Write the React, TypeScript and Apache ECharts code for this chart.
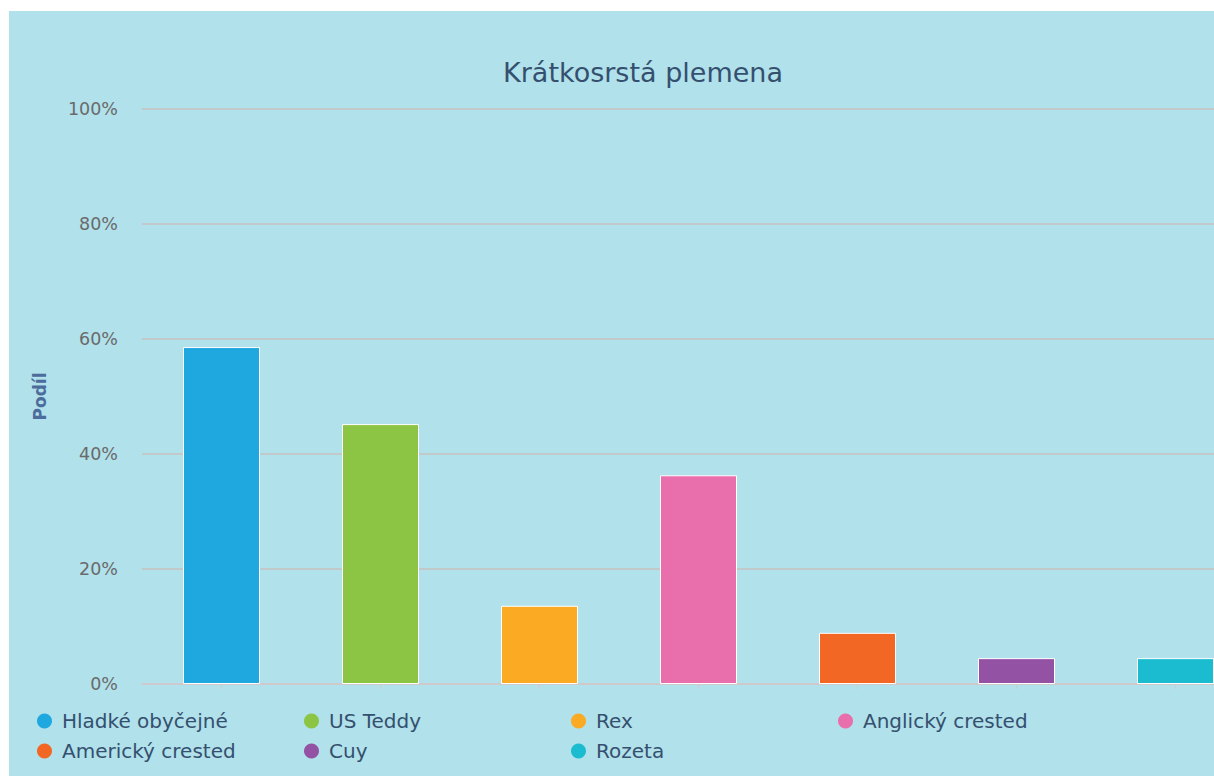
import React, { useEffect, useRef } from "react";
import * as echarts from "echarts";

const categories = ["Hladké obyčejné", "US Teddy", "Rex", "Anglický crested", "Americký crested", "Cuy", "Rozeta"];
const values = [58.6, 45.2, 13.6, 36.3, 8.9, 4.5, 4.5];
const colors = ["#1fa7e0", "#8bc543", "#fbaa24", "#e86fab", "#f26724", "#9452a4", "#1bbcd0"];
const yTicks = { min: 0, max: 100, interval: 20 };
const titleText = "Krátkosrstá plemena";
const yAxisName = "Podíl";

export default function App() {
  const ref = useRef<HTMLDivElement>(null);
  useEffect(() => {
    if (!ref.current) return;
    const chart = echarts.init(ref.current, undefined, { renderer: "svg" });
    const font = "'DejaVu Sans', Verdana, sans-serif";
    const series = categories.map((name, i) => ({
      name,
      type: "bar",
      stack: "all",
      barWidth: 77,
      data: categories.map((_, j) => (j === i ? values[i] : "-")),
      itemStyle: { color: colors[i], borderColor: "#ffffff", borderWidth: 1 },
    }));
    chart.setOption({
      animation: false,
      backgroundColor: "#b1e1ea",
      color: colors,
      title: {
        text: titleText,
        left: "center",
        top: 48,
        padding: 0,
        textStyle: { fontFamily: font, fontSize: 27, fontWeight: "normal", color: "#35506f" },
      },
      legend: {
        left: 28,
        top: 700,
        width: 1100,
        orient: "horizontal",
        icon: "circle",
        itemWidth: 25,
        itemHeight: 15,
        itemGap: 10,
        padding: 0,
        data: categories,
        itemStyle: { borderWidth: 0 },
        textStyle: { fontFamily: font, fontSize: 20, color: "#35506f", width: 232, lineHeight: 20 },
      },
      grid: { left: 133, right: 22, top: 98, bottom: 92 },
      xAxis: {
        type: "category",
        data: categories,
        axisLine: { lineStyle: { color: "#d4c8cd", width: 1.5 } },
        axisTick: { show: true, alignWithLabel: true, length: 5, lineStyle: { color: "#d4c8cd" } },
        axisLabel: { show: false },
      },
      yAxis: {
        type: "value",
        min: yTicks.min,
        max: yTicks.max,
        interval: yTicks.interval,
        name: yAxisName,
        nameLocation: "middle",
        nameRotate: 90,
        nameGap: 94,
        nameTextStyle: { fontFamily: font, fontSize: 17, fontWeight: "bold", color: "#4c6c9c" },
        axisLine: { show: false },
        axisTick: { show: false },
        axisLabel: { formatter: "{value}%", fontFamily: font, fontSize: 17.5, color: "#6a6a6a", margin: 24 },
        splitLine: { lineStyle: { color: "#c8c0c0", width: 1.5 } },
      },
      series,
    });
    return () => chart.dispose();
  }, []);
  return (
    <div style={{ position: "fixed", left: 9, top: 11, width: 1205, height: 765, overflow: "hidden" }}>
      <div ref={ref} style={{ width: 1268, height: 765 }} />
    </div>
  );
}
